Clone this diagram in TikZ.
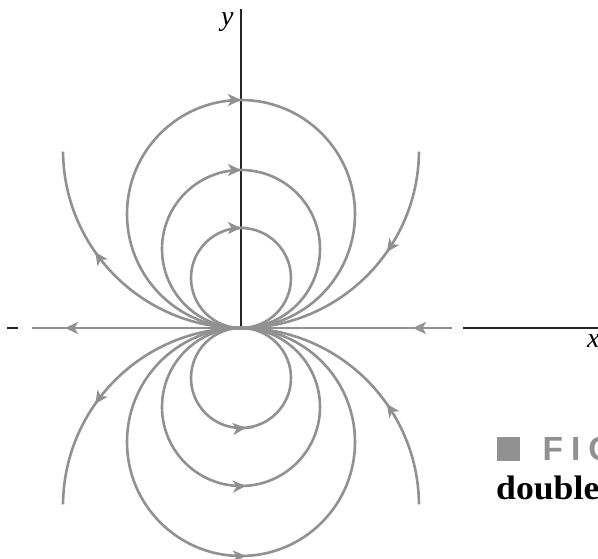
\documentclass[tikz,border=0pt]{standalone}
\usepackage{fontspec}
\setmainfont{Liberation Serif}
\newfontfamily\figfont{Liberation Sans}
\newfontfamily\capfont{Liberation Serif}[FakeStretch=1.05]
\usetikzlibrary{arrows.meta}
\definecolor{fl}{RGB}{145,145,145}
\begin{document}
\begin{tikzpicture}[x=1pt,y=1pt,
  field/.style={draw=fl, line width=2.6pt},
  tipfl/.style={draw=fl, fill=fl, line width=2.6pt, -{Stealth[length=13pt,width=12pt,inset=3.5pt]}},
  axisline/.style={draw=black!85, line width=1.3pt},
  axlab/.style={font=\fontsize{28}{30}\selectfont\itshape, anchor=base west, inner sep=0pt}]
\useasboundingbox (-241,-231) rectangle (357,328);
\coordinate (O) at (0,0);
% axes
\draw[axisline] (O) -- (0,319) coordinate (ytop);
\draw[axisline] (-234,0) coordinate (d1) -- (-223,0) coordinate (d2);
\draw[axisline] (222,0) coordinate (xa) -- (360,0) coordinate (xb);
\node[axlab] (ylab) at (-20,302) {y};
\node[axlab] (xlab) at (346,-20) {x};
% gray x-axis field line
\draw[field] (-209,0) coordinate (gl) -- (211,0) coordinate (gr);
\draw[tipfl] (-160,0) -- (-176,0);
\draw[tipfl] (188,0) -- (172,0);
% upper closed circles
\foreach \r in {114,79,50}{
  \draw[field] (0,\r) circle[radius=\r];
  \draw[tipfl] ([shift={(93:\r)}]0,\r) arc[start angle=93, end angle=90, radius=\r];
}
% lower closed circles
\foreach \r/\a in {114/272.5,79/273.6,50/275.7}{
  \draw[field] (0,-\r) circle[radius=\r];
  \draw[tipfl] ([shift={(\a-3:\r)}]0,-\r) arc[start angle=\a-3, end angle=\a, radius=\r];
}
% open field lines
\draw[field] (O) arc[start angle=270, end angle=180.5, radius=178];
\draw[field] (O) arc[start angle=270, end angle=359.5, radius=178];
\draw[field] (O) arc[start angle=90, end angle=179.5, radius=178];
\draw[field] (O) arc[start angle=90, end angle=0.5, radius=178];
\draw[tipfl] ([shift={(218:178)}]0,178) arc[start angle=218, end angle=215, radius=178];
\draw[tipfl] ([shift={(328:178)}]0,178) arc[start angle=328, end angle=325, radius=178];
\draw[tipfl] ([shift={(142:178)}]0,-178) arc[start angle=142, end angle=145, radius=178];
\draw[tipfl] ([shift={(32:178)}]0,-178) arc[start angle=32, end angle=35, radius=178];
% caption fragment
\node[fill=fl, minimum width=23pt, minimum height=24pt, inner sep=0pt, anchor=south west] (sq) at (256,-133) {};
\node[font=\figfont\bfseries\fontsize{33.5}{35}\selectfont, text=fl, anchor=base west, inner sep=0pt] (fig) at (301.5,-133) {F\hspace{8pt}I\hspace{8pt}G};
\node[font=\capfont\bfseries\fontsize{34}{36}\selectfont, anchor=base west, inner sep=0pt] (cap) at (255,-172) {double};
\end{tikzpicture}
\end{document}
